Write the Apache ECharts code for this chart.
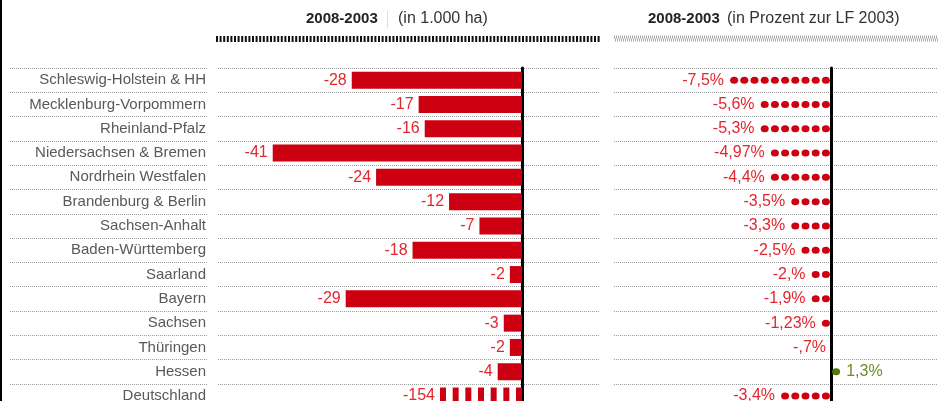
<!DOCTYPE html>
<html><head><meta charset="utf-8">
<script src="https://cdn.jsdelivr.net/npm/echarts@6/dist/echarts.min.js"></script>
<style>html,body{margin:0;padding:0;background:#fff}#c{width:938px;height:401px}</style>
</head><body><div id="c"></div>
<script>
// ---- data ----
const regions = ['Schleswig-Holstein & HH','Mecklenburg-Vorpommern','Rheinland-Pfalz','Niedersachsen & Bremen','Nordrhein Westfalen','Brandenburg & Berlin','Sachsen-Anhalt','Baden-Württemberg','Saarland','Bayern','Sachsen','Thüringen','Hessen','Deutschland'];
const changeHa = [-28,-17,-16,-41,-24,-12,-7,-18,-2,-29,-3,-2,-4,-154];
const changePct = [-7.5,-5.6,-5.3,-4.97,-4.4,-3.5,-3.3,-2.5,-2.0,-1.9,-1.23,-0.7,1.3,-3.4];
const pctText = ['-7,5%','-5,6%','-5,3%','-4,97%','-4,4%','-3,5%','-3,3%','-2,5%','-2,%','-1,9%','-1,23%','-,7%','1,3%','-3,4%'];
const dotCount = [10,7,7,6,6,4,4,3,2,2,1,0,1,5];
const headerLeft = ['2008-2003', '(in 1.000 ha)'];
const headerRight = ['2008-2003', '(in Prozent zur LF 2003)'];

// ---- styles / layout ----
const FONT = 'Liberation Sans, Arial, sans-serif';
const RED = '#cc0011', LABEL_RED = '#e3262f';
const GREEN_DOT = '#4f7a10', GREEN_TEXT = '#6b8e23';
const TOP = 68, ROW_H = 24.3;
const GRID_H = ROW_H * regions.length;
const totalIdx = regions.length - 1;
// bar panel
const B_LEFT = 218, B_RIGHT = 600, B_ZERO = 522;
const B_MIN = -50, bPx = (B_ZERO - B_LEFT) / -B_MIN;
const B_MAX = (B_RIGHT - B_ZERO) / bPx;
const D_LEN = 82, dPx = D_LEN / Math.abs(changeHa[totalIdx]);
// dot panel
const C_LEFT = 614, C_RIGHT = 938, C_ZERO = 831, DOT_PITCH = 10.2;
const DOT_SYMBOL = 'path://M0,3.5a4,3.5 0 1,0 8,0a4,3.5 0 1,0 -8,0z';

const dotted = {show: true, interval: 0, lineStyle: {color: '#9a9a9a', width: 1, type: [1, 1]}};

const barData = changeHa.map((v, i) => i === totalIdx ? '-' : v);
const totalData = changeHa.map((v, i) => i === totalIdx ? {value: v, symbolBoundingData: v} : '-');
const dotData = dotCount.map((n, i) => {
  const pos = changePct[i] > 0;
  return {
    value: pos ? n : -n,
    symbolBoundingData: pos ? 10 : -20,
    itemStyle: {color: pos ? GREEN_DOT : RED},
    label: {position: pos ? 'right' : 'left', color: pos ? GREEN_TEXT : LABEL_RED,
            formatter: pctText[i]}
  };
});

const catAxisBase = (gridIndex) => ({
  type: 'category', gridIndex, data: regions, inverse: true,
  axisTick: {show: false}, splitLine: dotted
});

const option = {
  animation: false,
  backgroundColor: '#fff',
  textStyle: {fontFamily: FONT},
  grid: [
    {left: 10, width: 198, top: TOP, height: GRID_H, outerBoundsMode: 'none'},
    {left: B_LEFT, width: B_RIGHT - B_LEFT, top: TOP, height: GRID_H, outerBoundsMode: 'none'},
    {left: C_LEFT, width: C_RIGHT - C_LEFT, top: TOP, height: GRID_H, outerBoundsMode: 'none'}
  ],
  xAxis: [
    {type: 'value', gridIndex: 0, min: 0, max: 1, show: false},
    {type: 'value', gridIndex: 1, min: B_MIN, max: B_MAX, show: false},
    {type: 'value', gridIndex: 1, min: -(B_ZERO - B_LEFT) / dPx, max: (B_RIGHT - B_ZERO) / dPx, show: false, position: 'top'},
    {type: 'value', gridIndex: 2, min: -(C_ZERO - C_LEFT) / DOT_PITCH, max: (C_RIGHT - C_ZERO) / DOT_PITCH, show: false}
  ],
  yAxis: [
    Object.assign(catAxisBase(0), {
      position: 'right', axisLine: {show: false},
      axisLabel: {inside: true, margin: 2, interval: 0, fontSize: 15, color: '#595959', fontFamily: FONT}
    }),
    Object.assign(catAxisBase(1), {
      axisLabel: {show: false},
      axisLine: {show: true, onZero: true, onZeroAxisIndex: 1, lineStyle: {color: '#000', width: 3}}
    }),
    Object.assign(catAxisBase(2), {
      axisLabel: {show: false},
      axisLine: {show: true, onZero: true, onZeroAxisIndex: 3, lineStyle: {color: '#000', width: 3}}
    })
  ],
  series: [
    {
      type: 'bar', xAxisIndex: 1, yAxisIndex: 1, data: barData, barWidth: 17,
      itemStyle: {color: RED},
      label: {show: true, position: 'left', distance: 5, color: LABEL_RED, fontSize: 16, fontFamily: FONT}
    },
    {
      type: 'pictorialBar', xAxisIndex: 2, yAxisIndex: 1, data: totalData,
      symbol: 'rect', symbolSize: [6, 17], symbolRepeat: true, symbolMargin: 4,
      itemStyle: {color: RED},
      label: {show: true, position: 'left', distance: 5, color: LABEL_RED, fontSize: 16, fontFamily: FONT}
    },
    {
      type: 'pictorialBar', xAxisIndex: 3, yAxisIndex: 2, data: dotData,
      symbol: DOT_SYMBOL, symbolSize: [8, 7], symbolRepeat: true, symbolMargin: '15%!',
      label: {show: true, distance: 5, fontSize: 16, fontFamily: FONT}
    }
  ],
  graphic: [
    {type: 'rect', shape: {x: 0, y: 0, width: 2, height: 401}, style: {fill: '#000'}},
    {type: 'text', x: 306, y: 19, style: {text: headerLeft[0], font: 'bold 15px ' + FONT, fill: '#222', verticalAlign: 'middle'}},
    {type: 'rect', shape: {x: 387, y: 11, width: 1, height: 17}, style: {fill: '#ddd'}},
    {type: 'text', x: 398, y: 19, style: {text: headerLeft[1], font: '16px ' + FONT, fill: '#333', verticalAlign: 'middle'}},
    {type: 'text', x: 648, y: 19, style: {text: headerRight[0], font: 'bold 15px ' + FONT, fill: '#222', verticalAlign: 'middle'}},
    {type: 'text', x: 727, y: 19, style: {text: headerRight[1], font: '16px ' + FONT, fill: '#333', verticalAlign: 'middle'}},
    {type: 'line', shape: {x1: 216, y1: 39, x2: 600, y2: 39}, style: {stroke: '#111', lineWidth: 6, lineDash: [2, 1.6]}},
    {type: 'line', shape: {x1: 614, y1: 37, x2: 938, y2: 37}, style: {stroke: '#aaa', lineWidth: 3, lineDash: [1, 1]}},
    {type: 'line', shape: {x1: 615, y1: 40, x2: 938, y2: 40}, style: {stroke: '#aaa', lineWidth: 3, lineDash: [1, 1]}}
  ]
};
const chart = echarts.init(document.getElementById('c'), null, {renderer: 'canvas'});
chart.setOption(option);
</script>
</body></html>
